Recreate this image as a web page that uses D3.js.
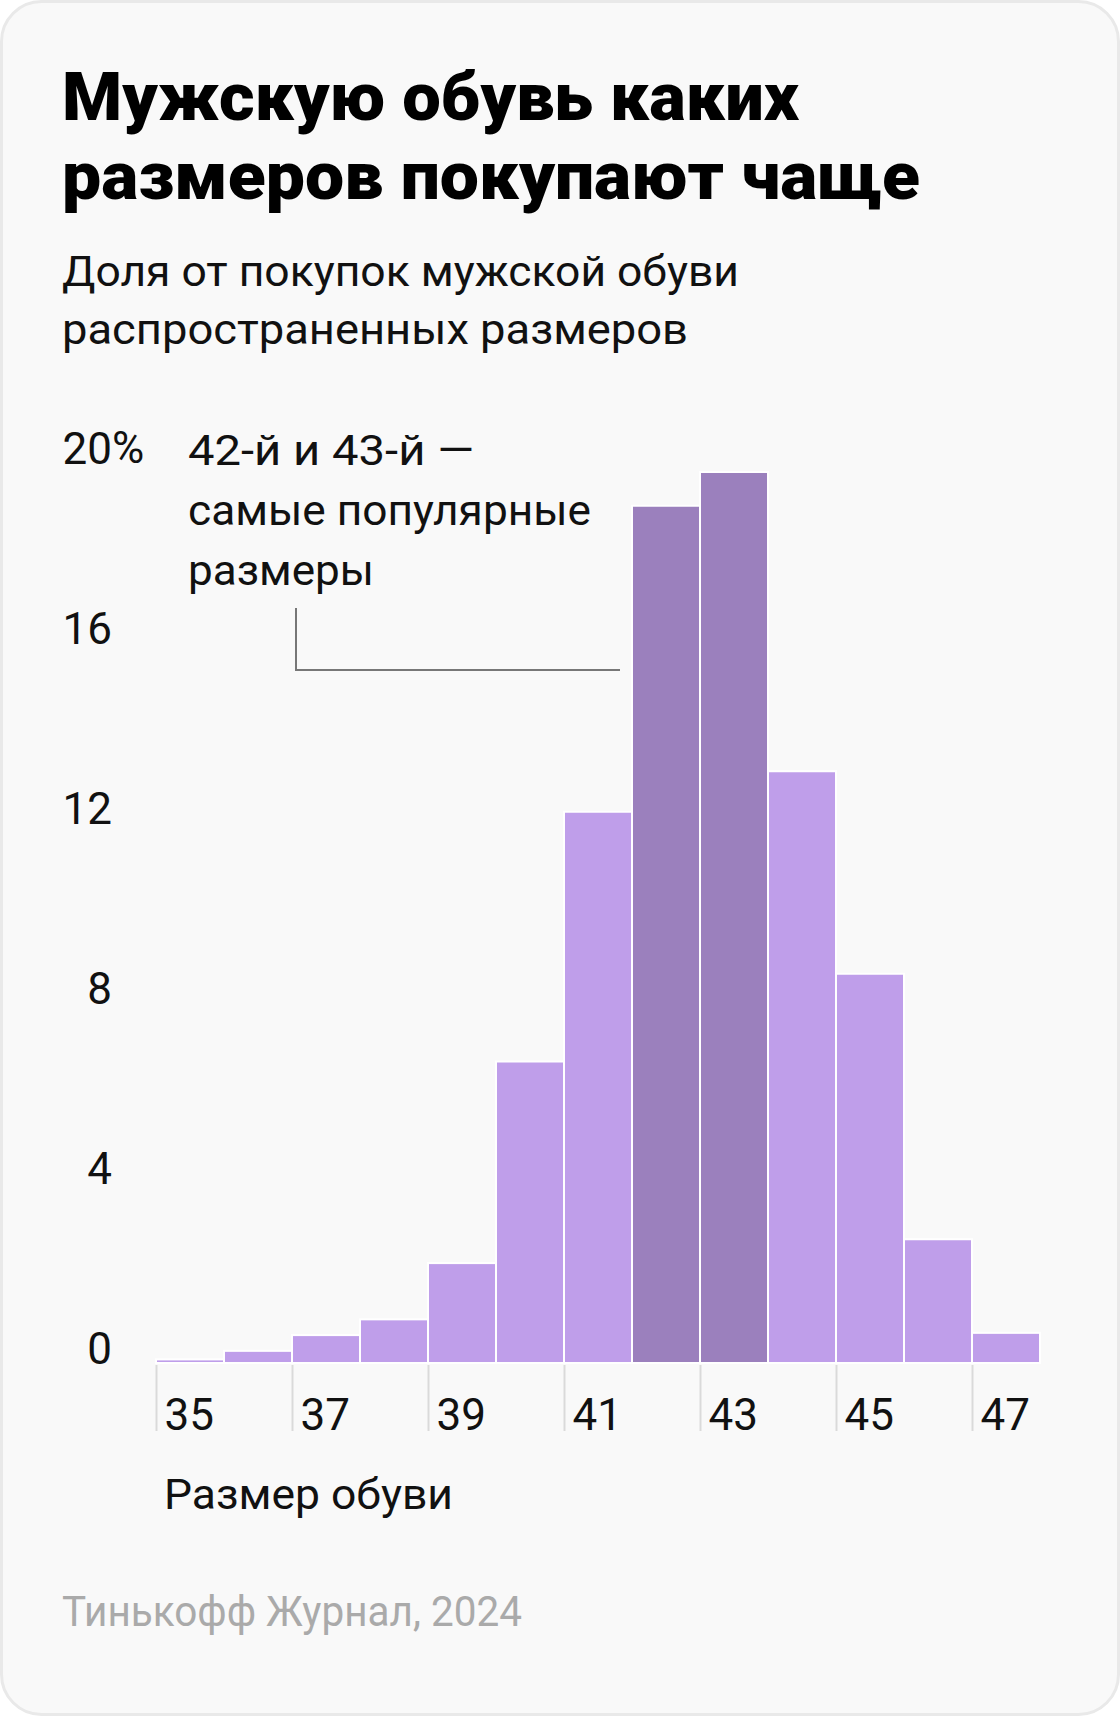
<!DOCTYPE html>
<html>
<head>
<meta charset="utf-8">
<script src="https://cdn.jsdelivr.net/npm/d3@7"></script>
<style>
  html, body { margin: 0; padding: 0; background: #ffffff; }
  svg { display: block; font-family: Roboto, "Noto Sans", sans-serif; }
</style>
</head>
<body>
<svg id="chart" width="1120" height="1716"></svg>
<script>
// ---- data ----
const sizes = [35, 36, 37, 38, 39, 40, 41, 42, 43, 44, 45, 46, 47];
const shares = [0.08, 0.27, 0.62, 0.97, 2.22, 6.7, 12.25, 19.05, 19.8, 13.15, 8.65, 2.75, 0.67];
const highlighted = [42, 43];
const yTicks = [0, 4, 8, 12, 16, 20];
const xTicks = [35, 37, 39, 41, 43, 45, 47];
const titleLines = ["Мужскую обувь каких", "размеров покупают чаще"];
const subtitleLines = ["Доля от покупок мужской обуви", "распространенных размеров"];
const noteLines = ["42-й и 43-й —", "самые популярные", "размеры"];
const xAxisTitle = "Размер обуви";
const source = "Тинькофф Журнал, 2024";

const svg = d3.select("#chart");

// card
svg.append("rect")
  .attr("x", 1.5).attr("y", 1.5).attr("width", 1117).attr("height", 1713)
  .attr("rx", 40).attr("fill", "#f9f9f9").attr("stroke", "#e9e9e9").attr("stroke-width", 3);

function fitText(sel, w) {
  sel.each(function () {
    const n = this.getComputedTextLength();
    if (Math.abs(n - w) > 2) { d3.select(this).attr("textLength", w).attr("lengthAdjust", "spacingAndGlyphs"); }
  });
}

// title
const titleW = [737, 858];
titleLines.forEach((t, i) => {
  svg.append("text").attr("x", 62).attr("y", 120 + i * 79)
    .attr("font-size", 66).attr("font-weight", 900).attr("fill", "#000")
    .text(t).call(fitText, titleW[i]);
});

// subtitle
const subW = [677, 626];
subtitleLines.forEach((t, i) => {
  svg.append("text").attr("x", 62).attr("y", 286 + i * 58)
    .attr("font-size", 42).attr("fill", "#111")
    .text(t).call(fitText, subW[i]);
});

// scales
const x = d3.scaleLinear().domain([35, 48]).range([156, 1040]);
const y = d3.scaleLinear().domain([0, 20]).range([1363, 463]);

// bars
svg.append("g").selectAll("rect").data(sizes).join("rect")
  .attr("x", d => x(d))
  .attr("width", d => x(d + 1) - x(d))
  .attr("y", (d, i) => y(shares[i]))
  .attr("height", (d, i) => y(0) - y(shares[i]))
  .attr("fill", d => highlighted.includes(d) ? "#9b80bd" : "#bf9eea")
  .attr("stroke", "#ffffff").attr("stroke-width", 2);

// y axis
const yAxis = svg.append("g").attr("transform", "translate(112,0)")
  .call(d3.axisLeft(y).tickValues(yTicks).tickSize(0).tickPadding(0));
yAxis.select(".domain").remove();
yAxis.selectAll("text").attr("dy", 0).attr("x", 0)
  .attr("font-size", 44).attr("font-family", "Roboto, sans-serif").attr("fill", "#111");
svg.append("text").attr("x", 112).attr("y", y(20))
  .attr("font-size", 44).attr("fill", "#111").text("%");

// x axis
const xAxis = svg.append("g").attr("transform", `translate(0,${y(0) + 2})`)
  .call(d3.axisBottom(x).tickValues(xTicks).tickSize(66).tickFormat(d => d));
xAxis.select(".domain").remove();
xAxis.selectAll("line").attr("stroke", "#dadada").attr("stroke-width", 2);
xAxis.selectAll("text").attr("text-anchor", "start").attr("x", 8).attr("y", 65).attr("dy", 0)
  .attr("font-size", 44).attr("font-family", "Roboto, sans-serif").attr("fill", "#111");

// x axis title
svg.append("text").attr("x", 164).attr("y", 1509)
  .attr("font-size", 42).attr("fill", "#111").text(xAxisTitle).call(fitText, 289);

// annotation
const noteW = [286, 403, 186];
noteLines.forEach((t, i) => {
  svg.append("text").attr("x", 188).attr("y", 465 + i * 60)
    .attr("font-size", 42).attr("fill", "#111").text(t).call(fitText, noteW[i]);
});
svg.append("path")
  .attr("d", `M296,608V670H${x(42) - 12}`)
  .attr("fill", "none").attr("stroke", "#777").attr("stroke-width", 2);

// source
svg.append("text").attr("x", 62).attr("y", 1626)
  .attr("font-size", 42).attr("fill", "#aaaaaa").text(source).call(fitText, 460);
</script>
</body>
</html>
